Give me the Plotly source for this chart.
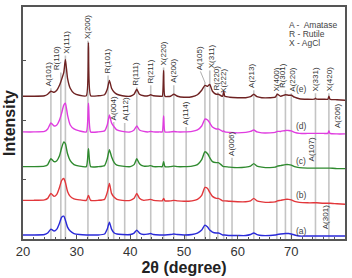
import plotly.graph_objects as go

# ---------------- data ----------------
two_theta = [20, 22, 24, 24.6, 25.2, 25.8, 26.3, 26.8, 27.2, 27.6,
             27.9, 28.3, 28.8, 29.5, 30.5, 31.8, 32.2, 32.6, 34, 35.2,
             35.7, 36.1, 36.5, 37.0, 37.5, 38.5, 40.0, 40.7, 41.2, 41.7,
             42.5, 43.3, 43.8, 44.3, 45.5, 45.95, 46.2, 46.45, 47.5, 48.1,
             48.8, 50.0, 51.5, 52.5, 53.3, 53.9, 54.4, 54.8, 55.3, 56.0,
             56.4, 56.9, 57.2, 57.4, 57.6, 58.5, 60.0, 61.5, 62.4, 63.0,
             63.6, 64.5, 66.0, 67.0, 67.4, 68.0, 68.9, 69.5, 70.0, 70.6,
             71.5, 73.0, 74.3, 74.5, 74.7, 76.0, 76.8, 77.0, 77.2, 78.5, 80.0]

int_a = [2, 2, 2.5, 4, 8, 6, 8, 14, 20, 21,
         17, 10, 6, 3.5, 2.5, 2, 2, 2, 2, 3,
         8, 15, 8, 4, 3, 2.5, 2.5, 4, 7, 4,
         2.5, 3, 3.5, 2.5, 2, 2, 2, 2, 2.5, 3,
         2.5, 2, 2.5, 4, 7, 12, 10, 7, 5, 4,
         4, 3, 2, 2, 2, 1.5, 1.5, 1.5, 2.5, 4,
         2.5, 1.5, 1.5, 2, 2.5, 3, 3.5, 3.5, 3, 2,
         1, 1, 1, 1, 1, 1, 1, 1, 1, 1, 1]

int_b = [4, 4, 4.5, 6, 11, 8, 10, 17, 24, 26,
         22, 13, 8, 5.5, 4.5, 4, 9, 4, 4, 5,
         12, 21, 11, 7, 5, 4, 4, 6, 11, 6,
         4, 4.5, 5, 4, 3.5, 3.5, 6, 3.5, 3.5, 4,
         3.5, 3, 3.5, 5, 9, 17, 16, 12, 8, 6,
         6, 4.5, 3.5, 3.5, 3.5, 3, 2.5, 2.5, 3.5, 6,
         3.5, 2.5, 2, 2.5, 3.5, 4, 5, 5, 4.5, 3,
         2, 1.5, 1.5, 1.5, 1.5, 1, 1, 1, 1, 0.5, 0]

int_c = [3, 3, 3.5, 5, 11, 8, 9, 14, 22, 28,
         26, 16, 9, 5, 3.5, 3, 21, 3, 3, 4,
         11, 20, 13, 7, 4.5, 3.5, 3, 5, 11, 6,
         3.5, 3.5, 4, 3, 3, 3, 8, 3, 3, 3.5,
         3, 3, 3.5, 5, 10, 18, 16, 12, 8, 7,
         7, 5, 3.5, 3, 3, 2.5, 2, 2.5, 3.5, 6,
         3.5, 2.5, 2, 2.5, 3.5, 4, 5, 5, 4.5, 3,
         2, 1.5, 1.5, 1.5, 1.5, 1.5, 1.5, 1.5, 1.5, 1, 1]

int_d = [3, 3, 3.5, 6, 12, 9, 10, 15, 22, 30,
         32, 20, 10, 6, 4, 3, 32, 3, 3, 4,
         10, 20, 12, 8, 5, 3.5, 3, 5, 9, 5,
         3.5, 3, 3.5, 3, 3, 3, 19, 3, 3, 3.5,
         3, 3, 3.5, 5, 9, 16, 15, 12, 8, 6,
         6, 4.5, 3.5, 4, 3, 2.5, 2, 2.5, 3.5, 5,
         3, 2, 2, 2.5, 3.5, 3.5, 4.5, 4.5, 4, 2.5,
         1.5, 1.5, 1.5, 1.5, 1.5, 1.5, 1.5, 4, 1.5, 1, 1]

int_e = [4, 4, 4.5, 6, 9, 8, 10, 15, 21, 28,
         41, 22, 12, 7, 5, 4.5, 58, 4.5, 4.5, 5.5,
         11, 20, 12, 8, 6, 4.5, 4, 6, 11, 6,
         4.5, 4.5, 5.5, 4.5, 4, 4, 30, 4, 4, 6,
         4, 3, 3.5, 5.5, 10, 15, 14, 16, 9, 6,
         6, 4.5, 4, 9, 4, 3, 2.5, 2.5, 3.5, 6,
         3.5, 2.5, 2.5, 3, 6, 4, 5.5, 5, 5, 3,
         1.5, 1, 1, 2, 1, 1, 1, 4, 1, 0.5, 0]

series_names = ["(a)", "(b)", "(c)", "(d)", "(e)"]
series_offsets = [2, 35, 70, 105, 140]
series_colors = ["#2a2ad8", "#e2373b", "#2f8a2f", "#e03ce0", "#6e2222"]
series_label_y = [8, 44, 79, 114, 151]
series_label_x = 71.85

# reference lines: 2theta position and top of line
line_pos = [25.2, 27.05, 27.9, 32.1, 35.85, 36.9, 38.95, 41.2, 43.8, 46.2,
            48.1, 50.4, 53.9, 54.8, 56.3, 57.4, 58.95, 63.0, 67.3, 68.9,
            70.0, 74.5, 77.0]
line_top = [152, 168, 185, 200, 165, 118, 117, 153, 155, 173,
            155, 113, 158, 170, 148, 145, 82, 150, 147, 150,
            147, 147, 147]

# peak labels: text, 2theta of text centre, bottom of text
peak_text = ["A(101)", "R(110)", "X(111)", "X(200)", "R(101)", "A(004)", "A(112)",
             "R(111)", "R(211)", "X(220)", "A(200)", "A(114)", "A(105)", "X(311)",
             "R(220)", "X(222)", "A(006)", "A(213)", "X(400)", "R(301)", "A(220)",
             "A(107)", "X(331)", "X(420)", "A(206)", "A(301)"]
peak_text_x = [24.63, 26.3, 27.96, 32.0, 35.74, 36.85, 38.98,
               40.93, 43.7, 46.1, 48.05, 50.37, 52.96, 55.19,
               56.1, 57.4, 58.98, 62.6, 67.2, 68.5, 70.2,
               73.8, 74.44, 77.0, 78.7, 76.3]
peak_text_y = [153, 169, 186, 201, 166, 119, 118,
               154, 156, 174, 156, 114, 169, 171,
               149, 146, 83, 151, 148, 151, 148,
               77, 148, 148, 111, 9]

legend_lines = ["A -  Amatase", "R - Rutile", "X - AgCl"]
legend_y = [216, 207, 198]
legend_x = 69.1

# ---------------- figure ----------------
fig = go.Figure()

shapes = []
for xp, yt in zip(line_pos, line_top):
    shapes.append(dict(type="line", xref="x", yref="y", x0=xp, x1=xp, y0=0, y1=yt,
                       line=dict(color="#c4c4c4", width=1.6), layer="below"))
# leader line for A(105)
shapes.append(dict(type="line", xref="x", yref="y", x0=peak_text_x[12] + 0.1, x1=line_pos[12],
                   y0=peak_text_y[12], y1=line_top[12],
                   line=dict(color="#999999", width=0.8), layer="below"))

ints = [int_a, int_b, int_c, int_d, int_e]
for name, off, col, vals in zip(series_names, series_offsets, series_colors, ints):
    fig.add_trace(go.Scatter(x=two_theta, y=[v + off for v in vals], mode="lines",
                             name=name, line=dict(color=col, width=1.4, shape="spline", smoothing=0.5),
                             showlegend=False))

annotations = []
font_small = dict(family="Liberation Sans, Arial, sans-serif", size=8, color="#333333")
for t, xp, yp in zip(peak_text, peak_text_x, peak_text_y):
    annotations.append(dict(x=xp, y=yp, xref="x", yref="y", text=t, showarrow=False,
                            textangle=-90, xanchor="center", yanchor="bottom",
                            font=font_small, borderpad=0))
for name, yp in zip(series_names, series_label_y):
    annotations.append(dict(x=series_label_x, y=yp, xref="x", yref="y", text=name,
                            showarrow=False, xanchor="center", yanchor="middle",
                            font=dict(family="Liberation Sans, Arial, sans-serif", size=8.5, color="#444444")))
for t, yp in zip(legend_lines, legend_y):
    annotations.append(dict(x=legend_x, y=yp, xref="x", yref="y", text=t, showarrow=False,
                            xanchor="left", yanchor="middle",
                            font=dict(family="Liberation Sans, Arial, sans-serif", size=8.5, color="#444444")))

fig.update_layout(
    width=352, height=278,
    margin=dict(l=23, r=5, t=7, b=37),
    paper_bgcolor="white", plot_bgcolor="white",
    shapes=shapes, annotations=annotations,
    font=dict(family="Liberation Sans, Arial, sans-serif", color="#333333"),
)
fig.update_xaxes(range=[20, 80], tickvals=[20, 30, 40, 50, 60, 70, 80],
                 ticks="inside", ticklen=4, tickcolor="#555555",
                 minor=dict(dtick=2, ticks="inside", ticklen=2, tickcolor="#555555"),
                 showline=True, linecolor="#555555", linewidth=1.5, mirror=True,
                 showgrid=False, zeroline=False,
                 tickfont=dict(size=13, color="#333333"),
                 title=dict(text="<b>2θ (degree)</b>", font=dict(size=16, color="#222222"), standoff=2))
fig.update_yaxes(range=[0, 234], tickvals=[60, 120, 180], showticklabels=False,
                 ticks="inside", ticklen=3, tickcolor="#555555",
                 showline=True, linecolor="#555555", linewidth=1.5, mirror=True,
                 showgrid=False, zeroline=False,
                 title=dict(text="<b>Intensity</b>", font=dict(size=16, color="#222222"), standoff=2))

fig.write_html("out.html")
